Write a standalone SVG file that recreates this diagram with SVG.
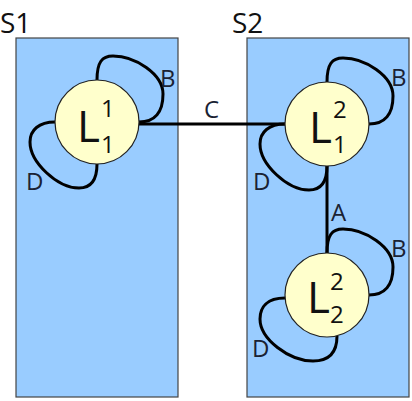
<svg xmlns="http://www.w3.org/2000/svg" width="412" height="401" viewBox="0 0 412 401">
<style>
.box{fill:#99ccff;stroke:#444;stroke-width:1.2}
.node{fill:#ffffcc;stroke:#222;stroke-width:1.2}
.edge{fill:none;stroke:#000;stroke-width:3}
.lbl{font-family:"Open Sans","Noto Sans",sans-serif;font-size:24px;fill:#1a2233}
.sys{font-family:"Open Sans","Noto Sans",sans-serif;font-size:28px;fill:#111}
.big{font-family:"Open Sans","Noto Sans",sans-serif;font-size:44px;fill:#111}
.idx{font-family:"Open Sans","Noto Sans",sans-serif;font-size:24px;fill:#111}
</style>
<defs>
<path id="loopB" d="M0,-42 C0,-60 5,-66 16,-66 C38,-66 66,-48 66,-28 C66,-10 58,0 42,0"/>
<path id="loopD" d="M-42,0 C-58,0 -67,8 -67,20 C-67,40 -40,66 -18,66 C-6,66 0,58 0,42"/>
</defs>
<g id="S1">
<rect class="box" x="16" y="38" width="162" height="359"/>
<text class="sys" x="0" y="33">S1</text>
</g>
<g id="S2">
<rect class="box" x="247" y="38" width="162" height="359"/>
<text class="sys" x="232" y="33">S2</text>
</g>
<g id="connectors">
<line class="edge" x1="139" y1="124" x2="285" y2="124"/>
<text class="lbl" x="204" y="118">C</text>
<line class="edge" x1="327" y1="166" x2="327" y2="253"/>
<text class="lbl" x="331" y="221">A</text>
<use href="#loopB" class="edge" transform="translate(97,122)"/>
<use href="#loopD" class="edge" transform="translate(97,122)"/>
<use href="#loopB" class="edge" transform="translate(327,124)"/>
<use href="#loopD" class="edge" transform="translate(327,124)"/>
<use href="#loopB" class="edge" transform="translate(327,295)"/>
<path class="edge" transform="translate(327,295)" d="M-42,3 C-60,3 -67,12 -67,24 C-67,44 -38,66 -14,66 C2,66 10,58 10,41"/>
<text class="lbl" x="160" y="87">B</text>
<text class="lbl" x="26" y="190">D</text>
<text class="lbl" x="391" y="86">B</text>
<text class="lbl" x="253" y="190">D</text>
<text class="lbl" x="391" y="257">B</text>
<text class="lbl" x="252" y="357">D</text>
</g>
<g id="L11">
<circle class="node" cx="97" cy="122" r="42"/>
<text class="big" x="77" y="142">L</text>
<text class="idx" x="101" y="117">1</text>
<text class="idx" x="101" y="153">1</text>
</g>
<g id="L21">
<circle class="node" cx="327" cy="124" r="42"/>
<text class="big" x="309" y="143">L</text>
<text class="idx" x="333" y="118">2</text>
<text class="idx" x="333" y="153">1</text>
</g>
<g id="L22">
<circle class="node" cx="327" cy="295" r="42"/>
<text class="big" x="307" y="313">L</text>
<text class="idx" x="330" y="290">2</text>
<text class="idx" x="330" y="323">2</text>
</g>
</svg>
